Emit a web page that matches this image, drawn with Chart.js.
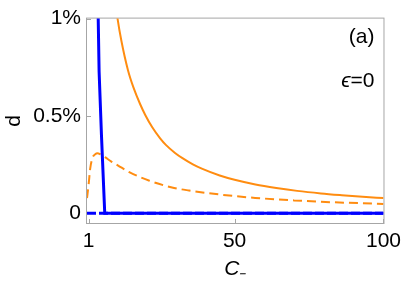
<!DOCTYPE html>
<html>
<head>
<meta charset="utf-8">
<script src="https://cdn.jsdelivr.net/npm/chart.js@4.4.1/dist/chart.umd.min.js"></script>
<style>
  html, body { margin: 0; padding: 0; background: #fff; }
  #wrap { width: 407px; height: 284px; position: relative; }
</style>
</head>
<body>
<div id="wrap"><canvas id="chart"></canvas></div>
<script>
/* values, d in percent */
const xTicks = [1, 50, 100];
const yTicks = [0, 0.5, 1];
const yTickLabels = ['0', '0.5%', '1%'];

const blueX = [4.15, 4.5, 5.3, 6.4, 100];
const blueD = [1.05, 0.73, 0.4, 0, 0];

const blueDashX = [0.44, 100];
const blueDashD = [0, 0];

const orangeX = [10.2, 10.7, 12, 14.2, 16, 18.3, 20, 22.3, 25, 27, 30, 32.5, 36, 39, 45, 50, 57, 64, 71, 79, 86, 93, 100];
const orangeD = [1.06, 1.0, 0.885, 0.735, 0.648, 0.56, 0.505, 0.443, 0.385, 0.35, 0.31, 0.283, 0.251, 0.229, 0.194, 0.172, 0.148, 0.13, 0.115, 0.102, 0.093, 0.085, 0.078];

const orangeDashX = [0.44, 1.0, 1.5, 2.3, 3.2, 3.95, 5.0, 6.5, 8.5, 10.9, 14.8, 21.4, 29.7, 34.7, 45.8, 56.9, 70, 79, 100];
const orangeDashD = [0.078, 0.15, 0.228, 0.285, 0.303, 0.308, 0.302, 0.288, 0.267, 0.245, 0.21, 0.167, 0.13, 0.117, 0.095, 0.079, 0.066, 0.059, 0.048];

const BLUE = '#0000ff';
const ORANGE = '#ff8c10';
const FRAME = '#a6a6a6';
const FONT = 'Liberation Sans, Arial, sans-serif';

const pts = (xs, ys) => xs.map((x, i) => ({ x: x, y: ys[i] }));

/* gray box round the plot, small inward ticks, and the panel notes */
const framePlugin = {
  id: 'frame',
  beforeDatasetsDraw(chart) {
    const { ctx, chartArea: a, scales: { x, y } } = chart;
    ctx.save();
    ctx.strokeStyle = FRAME;
    ctx.lineWidth = 1;
    ctx.strokeRect(a.left - 0.5, a.top - 0.5, a.right - a.left + 1, a.bottom - a.top + 1);
    ctx.beginPath();
    xTicks.forEach(v => {
      const px = Math.round(x.getPixelForValue(v)) + 0.5;
      ctx.moveTo(px, a.bottom);
      ctx.lineTo(px, a.bottom - 4);
    });
    yTicks.forEach(v => {
      const py = Math.round(y.getPixelForValue(v)) + 0.5;
      ctx.moveTo(a.left, py);
      ctx.lineTo(a.left + 4, py);
    });
    ctx.stroke();
    ctx.restore();
  },
  afterDraw(chart) {
    const { ctx, chartArea: a } = chart;
    const rx = a.right - 9;
    ctx.save();
    ctx.fillStyle = '#000';
    ctx.textBaseline = 'middle';
    ctx.textAlign = 'right';
    ctx.font = '21px ' + FONT;
    ctx.fillText('(a)', rx, a.top + 19);
    const rest = '=0';
    ctx.fillText(rest, rx, a.top + 63);
    const w = ctx.measureText(rest).width;
    ctx.font = 'italic 21px ' + FONT;
    ctx.fillText('ϵ', rx - w, a.top + 63);
    ctx.restore();
  }
};

new Chart(document.getElementById('chart'), {
  type: 'line',
  data: {
    datasets: [
      { data: pts(blueX, blueD), borderColor: BLUE, borderWidth: 3, pointRadius: 0, tension: 0 },
      { data: pts(blueDashX, blueDashD), borderColor: BLUE, borderWidth: 3, borderDash: [9, 3], pointRadius: 0 },
      { data: pts(orangeX, orangeD), borderColor: ORANGE, borderWidth: 2, pointRadius: 0, cubicInterpolationMode: 'monotone' },
      { data: pts(orangeDashX, orangeDashD), borderColor: ORANGE, borderWidth: 2, borderDash: [9, 5], pointRadius: 0, cubicInterpolationMode: 'monotone' }
    ]
  },
  options: {
    responsive: true,
    maintainAspectRatio: false,
    animation: false,
    layout: { padding: { top: 13, right: 20, left: 0, bottom: 0 } },
    plugins: { legend: { display: false }, tooltip: { enabled: false } },
    scales: {
      x: {
        type: 'linear',
        min: 0.44,
        max: 100,
        afterBuildTicks: s => { s.ticks = xTicks.map(v => ({ value: v })); },
        afterFit: s => { s.height = 61; },
        grid: { display: false, drawTicks: false },
        border: { display: false },
        ticks: { padding: 6, color: '#000', font: { family: FONT, size: 21 }, maxRotation: 0 },
        title: { display: true, text: 'C₋', color: '#000', font: { family: FONT, size: 21, style: 'italic' }, padding: { top: 0, bottom: 2 } }
      },
      y: {
        type: 'linear',
        min: -0.05,
        max: 1,
        afterBuildTicks: s => { s.ticks = yTicks.map(v => ({ value: v })); },
        afterFit: s => { s.width = 87; },
        grid: { display: false, drawTicks: false },
        border: { display: false },
        ticks: {
          padding: 6, color: '#000', font: { family: FONT, size: 21 },
          callback: v => yTickLabels[yTicks.indexOf(v)]
        },
        title: { display: true, text: 'd', color: '#000', font: { family: FONT, size: 21 }, padding: { top: 2, bottom: 0 } }
      }
    }
  },
  plugins: [framePlugin]
});
</script>
</body>
</html>
